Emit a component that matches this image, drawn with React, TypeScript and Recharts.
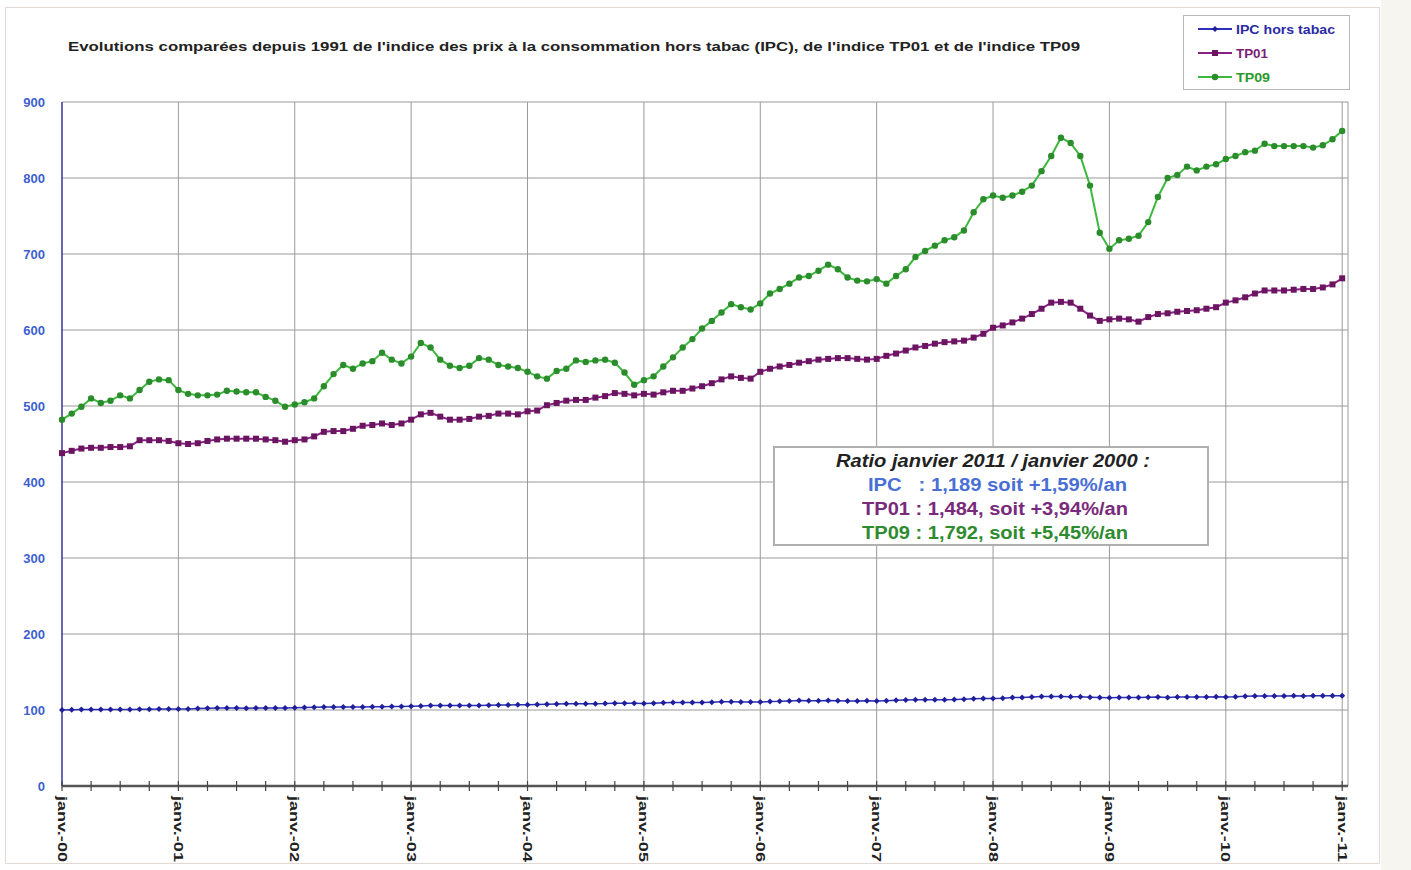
import React from 'react';
import { LineChart, Line, XAxis, YAxis, CartesianGrid, ReferenceLine, Legend } from 'recharts';

const FONT = '"Liberation Sans", Arial, Helvetica, sans-serif';

const yearLabels = ['janv.-00', 'janv.-01', 'janv.-02', 'janv.-03', 'janv.-04', 'janv.-05', 'janv.-06', 'janv.-07', 'janv.-08', 'janv.-09', 'janv.-10', 'janv.-11'];
const yTicks = [0, 100, 200, 300, 400, 500, 600, 700, 800, 900];

// Monthly values, janv. 2000 -> janv. 2011 (one row per year)
const ipc = [
  100.0, 100.2, 100.5, 100.6, 100.6, 100.8, 100.7, 100.6, 100.9, 101.0, 101.2, 101.3,
  101.2, 101.4, 101.9, 102.3, 102.6, 102.7, 102.5, 102.4, 102.5, 102.6, 102.5, 102.6,
  103.1, 103.3, 103.6, 104.0, 104.1, 104.1, 104.0, 104.1, 104.2, 104.4, 104.5, 104.7,
  105.0, 105.4, 105.8, 105.9, 105.8, 105.9, 105.8, 106.0, 106.3, 106.5, 106.6, 106.9,
  107.0, 107.3, 107.7, 107.9, 108.3, 108.3, 108.2, 108.3, 108.4, 108.9, 108.9, 108.9,
  108.6, 109.0, 109.5, 109.8, 110.0, 110.0, 110.0, 110.3, 110.7, 110.7, 110.5, 110.6,
  110.6, 111.1, 111.4, 112.0, 112.4, 112.3, 112.2, 112.4, 112.1, 112.0, 111.9, 112.2,
  112.0, 112.3, 112.7, 113.2, 113.5, 113.6, 113.5, 113.6, 113.8, 114.3, 114.9, 115.1,
  115.1, 115.5, 116.3, 116.6, 117.2, 117.6, 117.8, 117.6, 117.4, 117.3, 116.8, 116.4,
  116.0, 116.4, 116.4, 116.6, 116.7, 117.0, 116.6, 117.2, 117.0, 117.1, 117.2, 117.4,
  117.1, 117.4, 118.0, 118.4, 118.5, 118.4, 118.3, 118.6, 118.4, 118.6, 118.7, 118.9,
  118.9,
];

const tp01 = [
  438, 441, 444, 445, 445, 446, 446, 447, 455, 455, 455, 454,
  451, 450, 451, 454, 456, 457, 457, 457, 457, 456, 455, 453,
  455, 456, 460, 466, 467, 467, 470, 474, 475, 477, 475, 477,
  482, 489, 491, 486, 482, 482, 483, 486, 487, 490, 490, 489,
  493, 494, 501, 504, 507, 508, 508, 511, 513, 517, 516, 514,
  516, 515, 518, 520, 520, 523, 526, 530, 535, 539, 537, 536,
  545, 549, 552, 554, 557, 559, 561, 562, 563, 563, 562, 561,
  562, 566, 569, 573, 577, 579, 582, 584, 585, 586, 590, 595,
  603, 606, 610, 615, 621, 628, 636, 637, 636, 628, 619, 612,
  614, 615, 614, 611, 617, 621, 622, 624, 625, 626, 628, 630,
  636, 639, 643, 648, 652, 652, 652, 653, 654, 654, 656, 660,
  668,
];

const tp09 = [
  482, 490, 499, 510, 504, 507, 514, 510, 521, 532, 535, 534,
  521, 516, 514, 514, 515, 520, 519, 518, 518, 512, 507, 499,
  502, 505, 510, 526, 542, 554, 549, 556, 559, 570, 561, 556,
  565, 583, 577, 561, 553, 550, 553, 563, 561, 554, 552, 550,
  545, 539, 536, 546, 549, 560, 558, 560, 561, 557, 544, 528,
  534, 539, 552, 564, 577, 588, 602, 612, 623, 634, 630, 627,
  635, 648, 654, 661, 669, 671, 678, 686, 680, 669, 665, 664,
  667, 661, 671, 680, 696, 704, 711, 718, 722, 731, 755, 772,
  777, 774, 777, 782, 790, 809, 829, 853, 846, 829, 790, 728,
  707, 718, 720, 724, 742, 775, 800, 804, 815, 810, 815, 818,
  825, 829, 834, 836, 845, 842, 842, 842, 842, 840, 843, 851,
  862,
];

const ratioTitle = 'Ratio janvier 2011 / janvier 2000 :';
const ratioLines = [
  { text: 'IPC   : 1,189 soit +1,59%/an', color: '#4a6fd4' },
  { text: 'TP01 : 1,484, soit +3,94%/an', color: '#7a2a7a' },
  { text: 'TP09 : 1,792, soit +5,45%/an', color: '#2e8b2e' },
];

const data = ipc.map((v, m) => ({ m, ipc: v, tp01: tp01[m], tp09: tp09[m] }));
const quarterTicks = data.map((d) => d.m).filter((m) => m % 3 === 0);
const yearTicks = data.map((d) => d.m).filter((m) => m % 12 === 0 && m > 0);
const lastMonth = data.length - 1;
const xMax = lastMonth + 0.6;

const COLORS = {
  ipc: { line: '#2e2eb8', dot: '#1f1f9a', text: '#2a2aa6' },
  tp01: { line: '#8a1f86', dot: '#6a1560', text: '#7a1f78' },
  tp09: { line: '#3cb83c', dot: '#2a8c2a', text: '#2a9a2a' },
};

const diamond = (cx: number, cy: number, r: number) => `M${cx},${cy - r}L${cx + r},${cy}L${cx},${cy + r}L${cx - r},${cy}Z`;

const IpcDot = (p: any) => {
  if (p.cx == null || p.cy == null) return <g key={`i${p.index}`} />;
  return <path key={`i${p.index}`} d={diamond(p.cx, p.cy, 3)} fill={COLORS.ipc.dot} />;
};
const Tp01Dot = (p: any) => {
  if (p.cx == null || p.cy == null) return <g key={`p${p.index}`} />;
  return <rect key={`p${p.index}`} x={p.cx - 3} y={p.cy - 3} width={6} height={6} fill={COLORS.tp01.dot} />;
};
const Tp09Dot = (p: any) => {
  if (p.cx == null || p.cy == null) return <g key={`g${p.index}`} />;
  return <circle key={`g${p.index}`} cx={p.cx} cy={p.cy} r={3.2} fill={COLORS.tp09.dot} />;
};

const XTick = (props: any) => {
  const { x, y, payload } = props;
  const v = payload.value as number;
  const isYear = v % 12 === 0;
  const ty = y + 10;
  return (
    <g>
      <line x1={x} x2={x} y1={y - 5} y2={y + 5} stroke="#444" strokeWidth={1.2} />
      {isYear && (
        <text
          x={x}
          y={ty}
          transform={`rotate(90 ${x} ${ty})`}
          dominantBaseline="central"
          fontSize={13.5}
          fontWeight="bold"
          fill="#222"
          fontFamily={FONT}
          textLength={66}
          lengthAdjust="spacingAndGlyphs"
        >
          {yearLabels[v / 12]}
        </text>
      )}
    </g>
  );
};

const legendStyle: Record<string, { color: string; text: string; marker: (cx: number, cy: number) => React.ReactNode; len: number }> = {
  ipc: { color: COLORS.ipc.line, text: COLORS.ipc.text, marker: (cx, cy) => <path d={diamond(cx, cy, 3)} fill={COLORS.ipc.dot} />, len: 99 },
  tp01: { color: COLORS.tp01.line, text: COLORS.tp01.text, marker: (cx, cy) => <rect x={cx - 3} y={cy - 3} width={6} height={6} fill={COLORS.tp01.dot} />, len: 32 },
  tp09: { color: COLORS.tp09.line, text: COLORS.tp09.text, marker: (cx, cy) => <circle cx={cx} cy={cy} r={3.2} fill={COLORS.tp09.dot} />, len: 34 },
};

const renderLegend = (props: any) => {
  const payload = props.payload || [];
  return (
    <div style={{ width: 167, height: 75, boxSizing: 'border-box', border: '1px solid #b8b8b8', background: '#fff', paddingTop: 1 }}>
      {payload.map((entry: any) => {
        const st = legendStyle[entry.dataKey as string];
        if (!st) return null;
        return (
          <svg key={entry.dataKey} width={165} height={24} style={{ display: 'block' }}>
            <line x1={14} x2={48} y1={12} y2={12} stroke={st.color} strokeWidth={2} />
            {st.marker(31, 12)}
            <text x={52} y={12} dominantBaseline="central" fontSize={13.5} fontWeight="bold" fill={st.text} fontFamily={FONT} textLength={st.len} lengthAdjust="spacingAndGlyphs">
              {entry.value}
            </text>
          </svg>
        );
      })}
    </div>
  );
};

const title = "Evolutions comparées depuis 1991 de l'indice des prix à la consommation hors tabac (IPC), de l'indice TP01 et de l'indice TP09";

const ratioWidths = [259, 266, 266];
const ratioCenters = [224.5, 222, 222];

export default function App() {
  return (
    <div style={{ position: 'absolute', left: 0, top: 0, width: 1411, height: 870, background: '#fff', fontFamily: FONT, overflow: 'hidden' }}>
      <div style={{ position: 'absolute', left: 1381, top: 0, width: 30, height: 870, background: '#f7f5ef' }} />
      <div style={{ position: 'absolute', left: 5, top: 7, width: 1375, height: 857, border: '1px solid #e4d8d4', boxSizing: 'border-box' }} />
      <LineChart width={1411} height={870} data={data} margin={{ top: 102, right: 63, bottom: 0, left: 2 }}>
        <CartesianGrid vertical={false} stroke="#9a9a9a" strokeWidth={1} />
        {yearTicks.map((t) => (
          <ReferenceLine key={t} x={t} stroke="#9a9a9a" strokeWidth={1} />
        ))}
        <ReferenceLine x={xMax} stroke="#9a9a9a" strokeWidth={1} />
        <XAxis
          dataKey="m"
          type="number"
          domain={[0, xMax]}
          ticks={quarterTicks}
          interval={0}
          tick={<XTick />}
          tickLine={false}
          tickSize={0}
          tickMargin={0}
          height={84}
          axisLine={{ stroke: '#555', strokeWidth: 2.5 }}
        />
        <YAxis
          type="number"
          domain={[0, 900]}
          ticks={yTicks}
          interval={0}
          width={60}
          tickSize={0}
          tickMargin={17}
          tickLine={false}
          axisLine={{ stroke: '#34349e', strokeWidth: 1.5 }}
          tick={{ fill: '#3d5fcf', fontSize: 13, fontWeight: 'bold', fontFamily: FONT }}
        />
        <Legend
          layout="vertical"
          align="center"
          verticalAlign="middle"
          content={renderLegend}
          wrapperStyle={{ position: 'absolute', left: 1183, top: 15, width: 167, height: 75 }}
        />
        <Line name="IPC hors tabac" dataKey="ipc" stroke={COLORS.ipc.line} strokeWidth={1.5} dot={IpcDot} activeDot={false} isAnimationActive={false} />
        <Line name="TP01" dataKey="tp01" stroke={COLORS.tp01.line} strokeWidth={2} dot={Tp01Dot} activeDot={false} isAnimationActive={false} />
        <Line name="TP09" dataKey="tp09" stroke={COLORS.tp09.line} strokeWidth={2} dot={Tp09Dot} activeDot={false} isAnimationActive={false} />
      </LineChart>
      <svg style={{ position: 'absolute', left: 0, top: 0, pointerEvents: 'none' }} width={1411} height={100}>
        <text x={68} y={51} fontSize={13} fontWeight="bold" fill="#222" fontFamily={FONT} textLength={1012} lengthAdjust="spacingAndGlyphs">
          {title}
        </text>
      </svg>
      <svg style={{ position: 'absolute', left: 773, top: 446 }} width={436} height={100}>
        <rect x={1} y={1} width={434} height={98} fill="#fff" stroke="#b0b0b0" strokeWidth={2} />
        <text x={220} y={15} textAnchor="middle" dominantBaseline="central" fontSize={18} fontWeight="bold" fontStyle="italic" fill="#222" fontFamily={FONT} textLength={314} lengthAdjust="spacingAndGlyphs" xmlSpace="preserve">
          {ratioTitle}
        </text>
        {ratioLines.map((l, i) => (
          <text
            key={i}
            x={ratioCenters[i]}
            y={39 + i * 24}
            textAnchor="middle"
            dominantBaseline="central"
            fontSize={18}
            fontWeight="bold"
            fill={l.color}
            fontFamily={FONT}
            textLength={ratioWidths[i]}
            lengthAdjust="spacingAndGlyphs"
            style={{ whiteSpace: 'pre' }}
          >
            {l.text}
          </text>
        ))}
      </svg>
    </div>
  );
}
